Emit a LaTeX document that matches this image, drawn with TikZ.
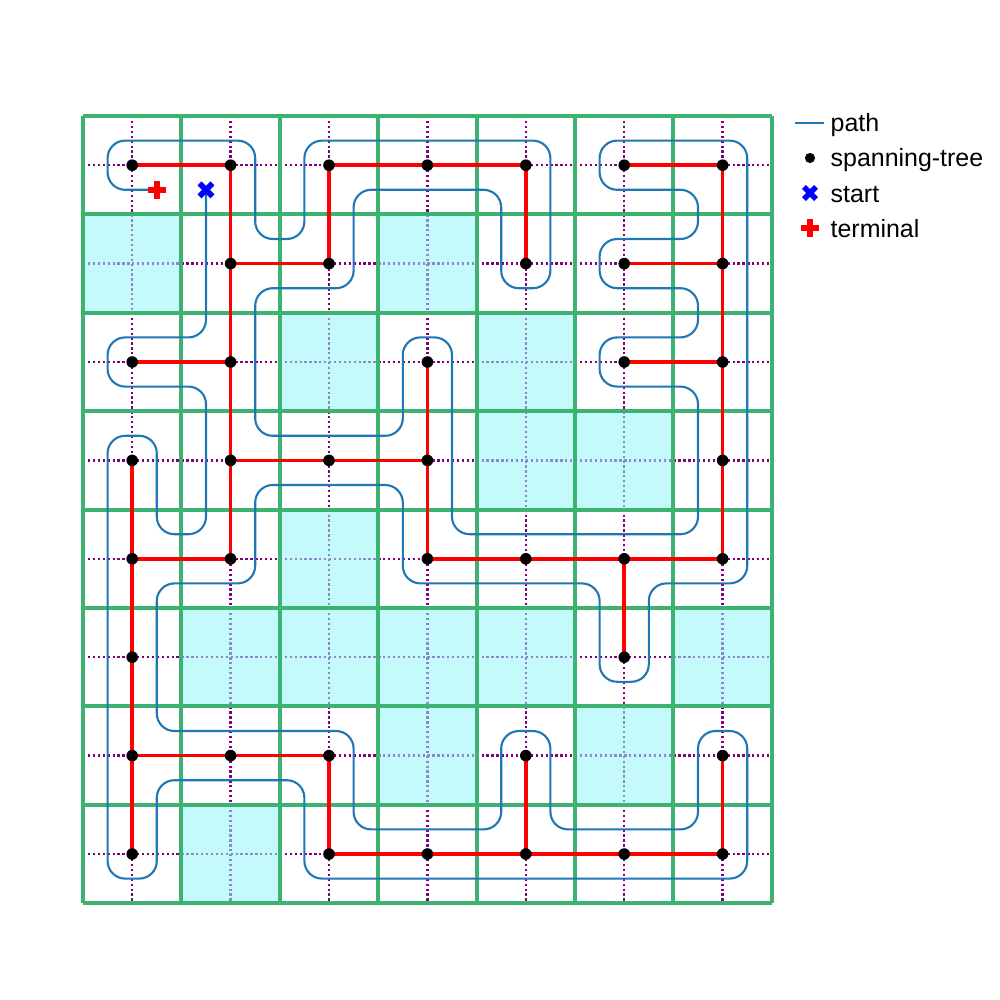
\documentclass[tikz,border=0pt]{standalone}
\usepackage{fontspec}
\setmainfont{Liberation Sans}
\usepackage{xcolor}
\usetikzlibrary{positioning}
\definecolor{GridGreen}{HTML}{3CB371}
\definecolor{ObsCyan}{RGB}{150,246,250}
\definecolor{PathBlue}{HTML}{1F77B4}
\definecolor{SubPurple}{HTML}{800080}

\begin{document}
\begin{tikzpicture}[x=0.984cm, y=0.984cm,
    cellline/.style={draw=GridGreen, line width=1.1pt},
    subline/.style={draw=SubPurple, line width=0.65pt, dash pattern=on 0.65pt off 0.75pt},
    obstacle/.style={fill=ObsCyan, fill opacity=0.56},
    treeedge/.style={draw=red, line width=1.0pt},
    treedot/.style={circle, fill=black, inner sep=0pt, minimum size=3.3pt},
    covpath/.style={draw=PathBlue, line width=0.6pt, rounded corners=5pt},
    legtext/.style={anchor=base west, inner sep=0pt, font=\fontsize{7.1}{8.5}\selectfont}]
    \useasboundingbox (-1.3435,-8.4837) rectangle (8.819,1.6789);

    % sub-cell lines
    \foreach \c in {0,...,6}
      \draw[subline] (\c,0.5) -- (\c,-7.5);
    \foreach \r in {0,...,7}
      \draw[subline] (-0.5,-\r) -- (6.5,-\r);

    % obstacles
    \foreach \r/\c in {1/0,1/3,2/2,2/4,3/4,3/5,4/2,5/1,5/2,5/3,5/4,5/6,6/3,6/5,7/1}
      \fill[obstacle] ({\c-0.5},{-\r-0.5}) rectangle ({\c+0.5},{-\r+0.5});

    % cells
    \foreach \c in {0,...,7}
      \draw[cellline] ({\c-0.5},0.5) -- ({\c-0.5},-7.5);
    \foreach \r in {0,...,8}
      \draw[cellline] (-0.5,{-\r+0.5}) -- (6.5,{-\r+0.5});

    % spanning tree
    \foreach \r/\c in {0/0,0/1,0/2,0/3,0/4,0/5,0/6,
                       1/1,1/2,1/4,1/5,1/6,
                       2/0,2/1,2/3,2/5,2/6,
                       3/0,3/1,3/2,3/3,3/6,
                       4/0,4/1,4/3,4/4,4/5,4/6,
                       5/0,5/5,
                       6/0,6/1,6/2,6/4,6/6,
                       7/0,7/2,7/3,7/4,7/5,7/6}
      \coordinate (n-\r-\c) at (\c,-\r);
    \foreach \a/\b in {0-0/0-1,0-1/1-1,0-2/0-3,0-3/0-4,0-2/1-2,0-4/1-4,0-5/0-6,0-6/1-6,
                       1-1/1-2,1-1/2-1,1-5/1-6,1-6/2-6,
                       2-0/2-1,2-1/3-1,2-3/3-3,2-5/2-6,2-6/3-6,
                       3-1/3-2,3-2/3-3,3-0/4-0,3-1/4-1,3-3/4-3,3-6/4-6,
                       4-0/4-1,4-3/4-4,4-4/4-5,4-5/4-6,4-0/5-0,4-5/5-5,
                       5-0/6-0,
                       6-0/6-1,6-1/6-2,6-0/7-0,6-2/7-2,6-4/7-4,6-6/7-6,
                       7-2/7-3,7-3/7-4,7-4/7-5,7-5/7-6}
      \draw[treeedge] (n-\a) -- (n-\b);

    % coverage path
    \coordinate (start) at (0.75,-0.25);
    \coordinate (term) at (0.25,-0.25);
    \draw[covpath] (start) -- (0.75,-1.75) -- (-0.25,-1.75) -- (-0.25,-2.25)
      -- (0.75,-2.25) -- (0.75,-3.75) -- (0.25,-3.75) -- (0.25,-2.75)
      -- (-0.25,-2.75) -- (-0.25,-7.25) -- (0.25,-7.25) -- (0.25,-6.25)
      -- (1.75,-6.25) -- (1.75,-7.25) -- (6.25,-7.25) -- (6.25,-5.75)
      -- (5.75,-5.75) -- (5.75,-6.75) -- (4.25,-6.75) -- (4.25,-5.75)
      -- (3.75,-5.75) -- (3.75,-6.75) -- (2.25,-6.75) -- (2.25,-5.75)
      -- (0.25,-5.75) -- (0.25,-4.25) -- (1.25,-4.25) -- (1.25,-3.25)
      -- (2.75,-3.25) -- (2.75,-4.25) -- (4.75,-4.25) -- (4.75,-5.25)
      -- (5.25,-5.25) -- (5.25,-4.25) -- (6.25,-4.25) -- (6.25,0.25)
      -- (4.75,0.25) -- (4.75,-0.25) -- (5.75,-0.25) -- (5.75,-0.75)
      -- (4.75,-0.75) -- (4.75,-1.25) -- (5.75,-1.25) -- (5.75,-1.75)
      -- (4.75,-1.75) -- (4.75,-2.25) -- (5.75,-2.25) -- (5.75,-3.75)
      -- (3.25,-3.75) -- (3.25,-1.75) -- (2.75,-1.75) -- (2.75,-2.75)
      -- (1.25,-2.75) -- (1.25,-1.25) -- (2.25,-1.25) -- (2.25,-0.25)
      -- (3.75,-0.25) -- (3.75,-1.25) -- (4.25,-1.25) -- (4.25,0.25)
      -- (1.75,0.25) -- (1.75,-0.75) -- (1.25,-0.75) -- (1.25,0.25)
      -- (-0.25,0.25) -- (-0.25,-0.25) -- (term);

    % tree vertices on top
    \foreach \r/\c in {0/0,0/1,0/2,0/3,0/4,0/5,0/6,
                       1/1,1/2,1/4,1/5,1/6,
                       2/0,2/1,2/3,2/5,2/6,
                       3/0,3/1,3/2,3/3,3/6,
                       4/0,4/1,4/3,4/4,4/5,4/6,
                       5/0,5/5,
                       6/0,6/1,6/2,6/4,6/6,
                       7/0,7/2,7/3,7/4,7/5,7/6}
      \node[treedot] (d-\r-\c) at (n-\r-\c) {};

    % start and terminal marks
    \draw[blue, line width=1.6pt]
      ([shift={(-0.066,-0.066)}]start) -- ([shift={(0.066,0.066)}]start)
      ([shift={(-0.066,0.066)}]start) -- ([shift={(0.066,-0.066)}]start);
    \fill[red] ([shift={(-0.092,-0.031)}]term) rectangle ([shift={(0.092,0.031)}]term);
    \fill[red] ([shift={(-0.031,-0.092)}]term) rectangle ([shift={(0.031,0.092)}]term);

    % legend
    \coordinate (leg-path) at (6.888,0.4289);
    \coordinate (leg-start) at (6.888,-0.2825);
    \coordinate (leg-term) at (6.888,-0.6382);
    \draw[PathBlue, line width=0.6pt] ([xshift=-0.15cm]leg-path) -- ([xshift=0.14cm]leg-path);
    \node[treedot, minimum size=2.9pt] (leg-dot) at (6.888,0.0732) {};
    \draw[blue, line width=1.55pt]
      ([shift={(-0.062,-0.062)}]leg-start) -- ([shift={(0.062,0.062)}]leg-start)
      ([shift={(-0.062,0.062)}]leg-start) -- ([shift={(0.062,-0.062)}]leg-start);
    \fill[red] ([shift={(-0.09,-0.031)}]leg-term) rectangle ([shift={(0.09,0.031)}]leg-term);
    \fill[red] ([shift={(-0.031,-0.09)}]leg-term) rectangle ([shift={(0.031,0.09)}]leg-term);
    \node[legtext] (lab-path) at (7.091,0.3374) {path};
    \node[legtext] (lab-tree) at (7.091,-0.0183) {spanning-tree};
    \node[legtext] (lab-start) at (7.091,-0.374) {start};
    \node[legtext] (lab-term) at (7.091,-0.7297) {terminal};
  \end{tikzpicture}
\end{document}
